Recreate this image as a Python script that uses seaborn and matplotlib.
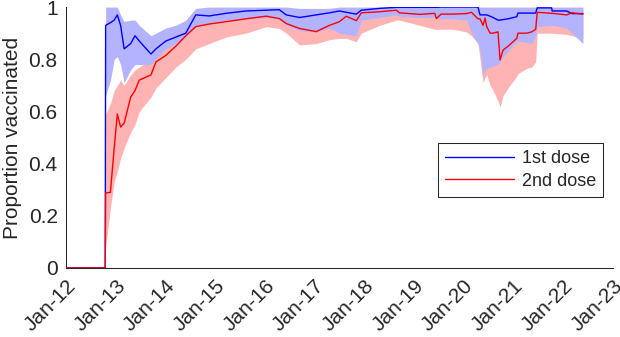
import numpy as np
import pandas as pd
import matplotlib
matplotlib.use('Agg')
import matplotlib.pyplot as plt
import matplotlib.dates as mdates
from matplotlib.ticker import FormatStrFormatter
import seaborn as sns

# Values
dates = ['2012-01-01', '2012-10-15', '2012-10-18', '2012-11-22', '2012-12-20', '2013-01-12',
         '2013-02-05', '2013-03-03', '2013-04-20', '2013-05-22', '2013-06-22', '2013-09-16',
         '2013-10-23', '2014-01-04', '2014-03-18', '2014-05-30', '2014-08-11', '2014-11-18',
         '2015-03-21', '2015-08-14', '2016-01-11', '2016-04-16', '2016-06-06', '2016-09-12',
         '2017-01-12', '2017-04-20', '2017-07-02', '2017-08-21', '2017-11-03', '2017-12-10',
         '2018-04-22', '2018-08-24', '2018-09-16', '2019-02-13', '2019-06-02', '2019-06-14',
         '2019-07-19', '2019-10-11', '2020-01-22', '2020-02-27', '2020-04-15', '2020-04-30',
         '2020-05-22', '2020-06-06', '2020-06-18', '2020-07-13', '2020-08-04', '2020-09-09',
         '2020-09-24', '2020-10-16', '2020-11-22', '2021-01-25', '2021-02-03', '2021-04-08',
         '2021-05-15', '2021-06-13', '2021-06-24', '2021-10-08', '2021-10-12', '2022-01-26',
         '2022-03-07', '2022-05-26']

dose1 = [0, 0, 0.93, 0.94, 0.95, 0.97,
         0.93, 0.84, 0.86, 0.89, 0.87, 0.82,
         0.84, 0.87, 0.885, 0.90, 0.97, 0.966,
         0.976, 0.985, 0.988, 0.99, 0.97, 0.96,
         0.97, 0.978, 0.985, 0.98, 0.973, 0.988,
         0.995, 0.999, 0.999, 0.999, 0.999, 0.999,
         1.0, 1.0, 1.0, 1.0, 1.0, 0.97,
         0.97, 0.97, 0.97, 0.965, 0.96, 0.95,
         0.95, 0.952, 0.955, 0.963, 0.977, 0.977,
         0.977, 0.977, 0.997, 0.997, 0.985, 0.985,
         0.975, 0.975]
dose1_lo = [0, 0, 0.66, 0.72, 0.80, 0.81,
            0.78, 0.71, 0.76, 0.78, 0.78, 0.78,
            0.80, 0.84, 0.86, 0.885, 0.93, 0.94,
            0.95, 0.955, 0.96, 0.955, 0.93, 0.91,
            0.905, 0.92, 0.90, 0.895, 0.89, 0.95,
            0.96, 0.97, 0.965, 0.96, 0.96, 0.955,
            0.955, 0.955, 0.95, 0.90, 0.86, 0.835,
            0.73, 0.76, 0.765, 0.77, 0.775, 0.78,
            0.79, 0.81, 0.83, 0.87, 0.87, 0.865,
            0.86, 0.89, 0.925, 0.93, 0.93, 0.92,
            0.90, 0.86]
dose1_hi = [0, 0, 1.0, 1.0, 1.0, 1.0,
            0.97, 0.945, 0.95, 0.95, 0.93, 0.89,
            0.90, 0.92, 0.93, 0.95, 0.995, 1.0,
            1.0, 1.0, 1.0, 1.0, 1.0, 0.995,
            0.995, 0.995, 1.0, 1.0, 1.0, 1.0,
            1.0, 1.0, 1.0, 1.0, 1.0, 1.0,
            1.0, 1.0, 1.0, 1.0, 1.0, 1.0,
            1.0, 1.0, 1.0, 1.0, 1.0, 1.0,
            1.0, 1.0, 1.0, 1.0, 1.0, 1.0,
            1.0, 1.0, 1.0, 1.0, 1.0, 1.0,
            1.0, 1.0]

dose2 = [0, 0, 0.287, 0.29, 0.46, 0.59,
         0.54, 0.555, 0.655, 0.68, 0.72, 0.74,
         0.79, 0.815, 0.85, 0.89, 0.925, 0.935,
         0.944, 0.955, 0.965, 0.956, 0.937, 0.918,
         0.906, 0.93, 0.944, 0.965, 0.948, 0.978,
         0.982, 0.988, 0.978, 0.972, 0.976, 0.956,
         0.973, 0.973, 0.975, 0.98, 0.955, 0.955,
         0.93, 0.958, 0.925, 0.90, 0.90, 0.905,
         0.797, 0.835, 0.85, 0.88, 0.90, 0.90,
         0.905, 0.915, 0.98, 0.976, 0.976, 0.97,
         0.978, 0.973]
dose2_lo = [0, 0, 0.08, 0.23, 0.33, 0.37,
            0.42, 0.46, 0.52, 0.55, 0.60, 0.655,
            0.69, 0.73, 0.77, 0.80, 0.84, 0.86,
            0.885, 0.90, 0.925, 0.918, 0.90, 0.855,
            0.86, 0.875, 0.88, 0.88, 0.867, 0.90,
            0.93, 0.95, 0.95, 0.93, 0.915, 0.915,
            0.915, 0.915, 0.905, 0.89, 0.86, 0.80,
            0.71, 0.73, 0.74, 0.70, 0.68, 0.64,
            0.617, 0.66, 0.69, 0.735, 0.745, 0.765,
            0.77, 0.79, 0.90, 0.90, 0.90, 0.895,
            0.89, 0.88]
dose2_hi = [0, 0, 0.59, 0.63, 0.68, 0.70,
            0.72, 0.70, 0.74, 0.76, 0.77, 0.80,
            0.83, 0.85, 0.88, 0.92, 0.95, 0.96,
            0.97, 0.975, 0.98, 0.975, 0.96, 0.95,
            0.94, 0.955, 0.965, 0.98, 0.97, 0.99,
            0.995, 0.998, 0.99, 0.99, 0.99, 0.98,
            0.99, 0.99, 0.99, 0.99, 0.98, 0.97,
            0.96, 0.97, 0.95, 0.93, 0.93, 0.93,
            0.85, 0.87, 0.89, 0.91, 0.93, 0.93,
            0.935, 0.945, 0.99, 0.99, 0.99, 0.99,
            0.99, 0.99]

dose_labels = ['1st dose', '2nd dose']
ytick_vals = [0, 0.2, 0.4, 0.6, 0.8, 1]

txt = '#262626'
sns.set_style('white')
plt.rcParams['font.family'] = ['Liberation Sans', 'DejaVu Sans']

d = pd.to_datetime(dates)
df = pd.DataFrame({
    'date': np.concatenate([d, d]),
    'value': dose1 + dose2,
    'dose': [dose_labels[0]] * len(d) + [dose_labels[1]] * len(d),
})

fig = plt.figure(figsize=(6.2, 3.37), dpi=100)
ax = fig.add_axes([0.1065, 0.205, 0.882, 0.774])

# bands: 2nd dose first, 1st dose on top (opaque)
ax.fill_between(d, dose2_lo, dose2_hi, color='#ffb3b3', lw=0, zorder=1)
ax.fill_between(d, dose1_lo, dose1_hi, color='#b3b3ff', lw=0, zorder=2)

sns.lineplot(data=df, x='date', y='value', hue='dose', palette=['#0000ff', '#ff0000'],
             estimator=None, sort=False, lw=1.0, ax=ax, zorder=3)

ax.set_xlim(pd.Timestamp('2012-01-01'), pd.Timestamp('2023-01-01'))
ax.set_ylim(0, 1)
ax.xaxis.set_major_locator(mdates.YearLocator())
ax.xaxis.set_major_formatter(mdates.DateFormatter('%b-%y'))
ax.set_yticks(ytick_vals)
ax.yaxis.set_major_formatter(FormatStrFormatter('%g'))
for lab in ax.get_xticklabels():
    lab.set_rotation(45)
    lab.set_ha('right')
    lab.set_rotation_mode('anchor')

ax.tick_params(direction='in', length=4, width=0.75, colors=txt, labelsize=15, pad=6)
ax.set_xlabel('')
ax.set_ylabel('Proportion vaccinated', fontsize=15, color=txt, labelpad=5)
sns.despine(ax=ax)
for s in ['left', 'bottom']:
    ax.spines[s].set_color(txt)
    ax.spines[s].set_linewidth(0.75)

leg = ax.legend(loc='upper right', bbox_to_anchor=(0.982, 0.479), fontsize=13,
                frameon=True, fancybox=False, edgecolor=txt, framealpha=1,
                handlelength=3.85, handletextpad=0.4, labelspacing=0.3, borderpad=0.4,
                borderaxespad=0)
leg.get_frame().set_linewidth(0.75)
for t in leg.get_texts():
    t.set_color(txt)

fig.savefig('out.png', dpi=100)
